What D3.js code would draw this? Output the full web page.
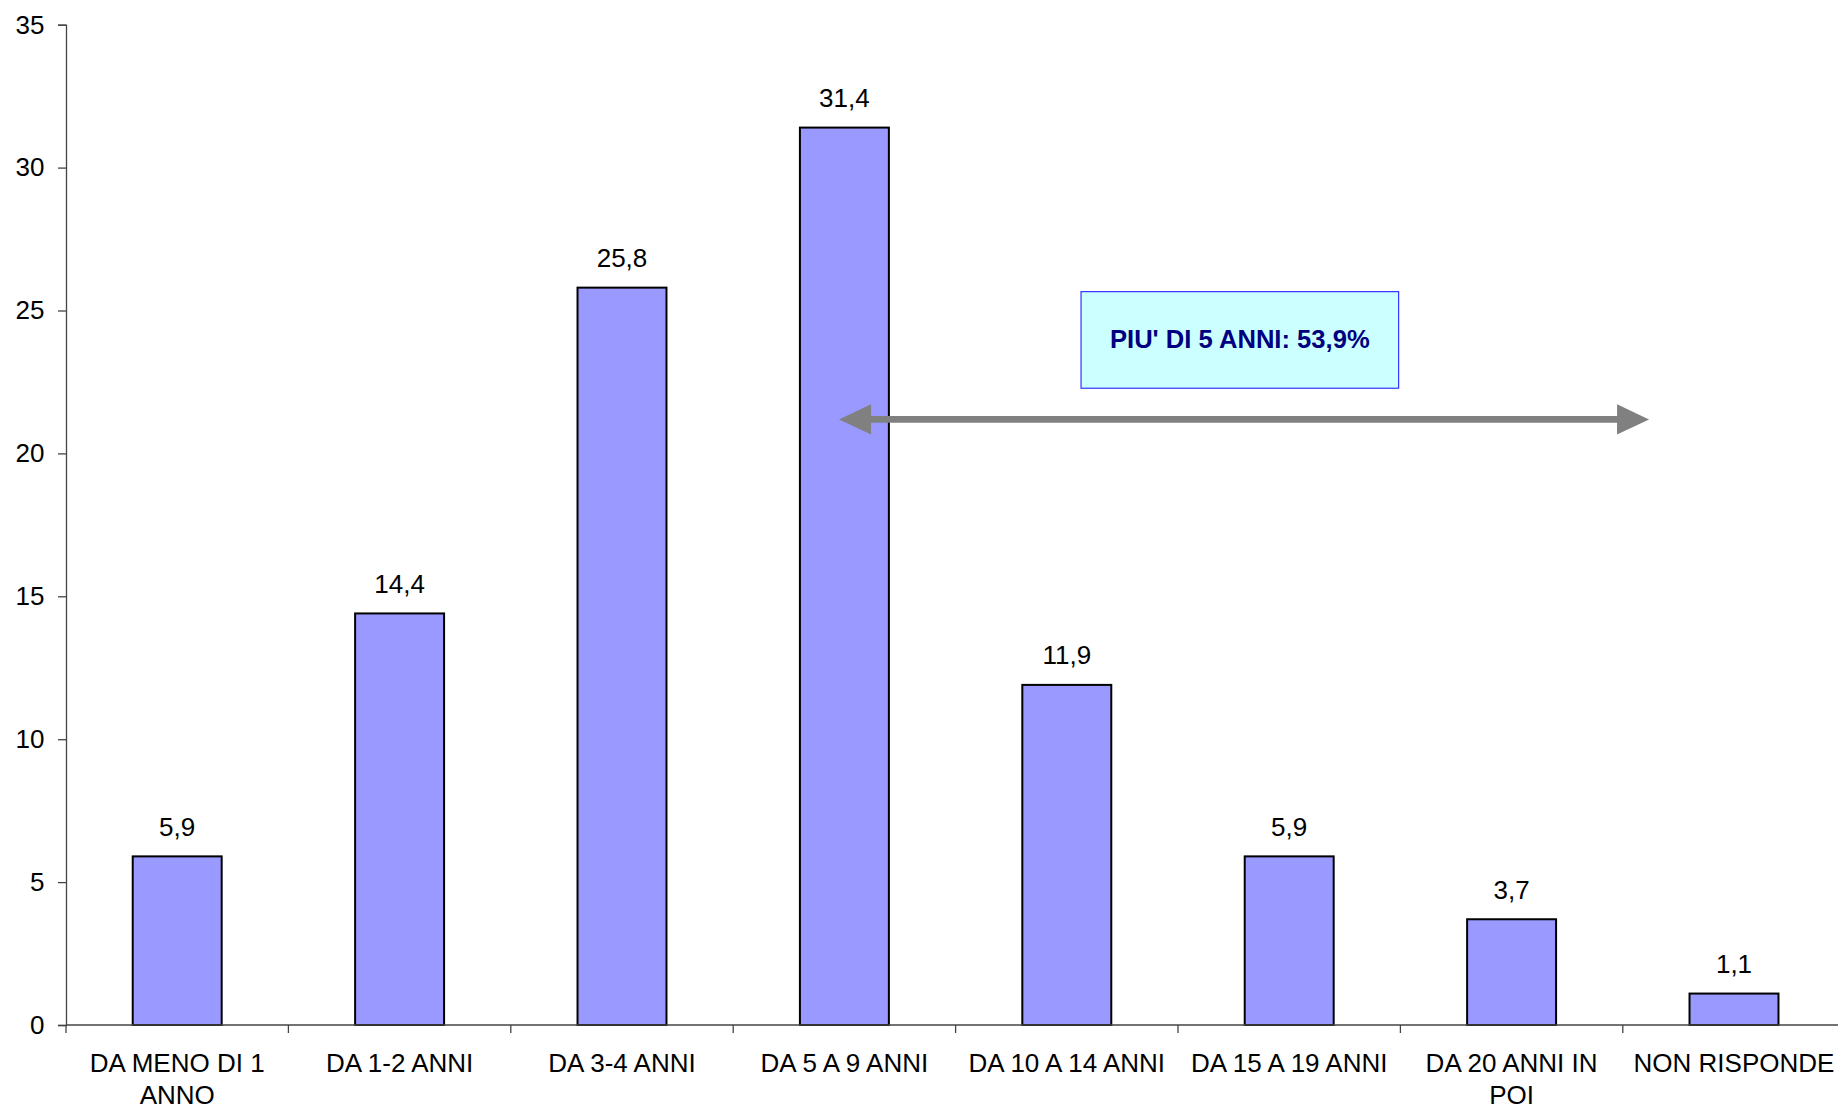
<!DOCTYPE html>
<html>
<head>
<meta charset="utf-8">
<script src="https://cdn.jsdelivr.net/npm/d3@7"></script>
<style>
  html, body { margin: 0; padding: 0; background: #fff; }
  svg { display: block; font-family: "Liberation Sans", Arial, sans-serif; }
</style>
</head>
<body>
<svg id="chart" width="1838" height="1109"></svg>
<script>
const categories = [
  "DA MENO DI 1\nANNO",
  "DA 1-2 ANNI",
  "DA 3-4 ANNI",
  "DA 5 A 9 ANNI",
  "DA 10 A 14 ANNI",
  "DA 15 A 19 ANNI",
  "DA 20 ANNI IN\nPOI",
  "NON RISPONDE"
];
const values = [5.9, 14.4, 25.8, 31.4, 11.9, 5.9, 3.7, 1.1];
const valueLabels = ["5,9", "14,4", "25,8", "31,4", "11,9", "5,9", "3,7", "1,1"];
const yTicks = [0, 5, 10, 15, 20, 25, 30, 35];
const annotationText = "PIU' DI 5 ANNI: 53,9%";

const svg = d3.select("#chart");
const margin = { left: 66, top: 24.7 };
const bandW = 222.4;
const width = bandW * categories.length;
const height = 1025 - margin.top;

const x = d3.scaleBand().domain(categories).range([0, width]).paddingInner(0).paddingOuter(0);
const y = d3.scaleLinear().domain([0, 35]).range([height, 0]);

const g = svg.append("g").attr("transform", `translate(${margin.left},${margin.top})`);

// bars
const barFrac = 0.4;
g.selectAll("rect.bar").data(values).enter().append("rect")
  .attr("class", "bar")
  .attr("x", (d, i) => x(categories[i]) + x.bandwidth() * (1 - barFrac) / 2)
  .attr("y", d => y(d))
  .attr("width", x.bandwidth() * barFrac)
  .attr("height", d => y(0) - y(d))
  .attr("fill", "#9999FF")
  .attr("stroke", "#000")
  .attr("stroke-width", 2);

// value labels
g.selectAll("text.val").data(values).enter().append("text")
  .attr("class", "val")
  .attr("x", (d, i) => x(categories[i]) + x.bandwidth() / 2)
  .attr("y", d => y(d) - 20.5)
  .attr("text-anchor", "middle")
  .attr("font-size", 26)
  .attr("fill", "#000")
  .text((d, i) => valueLabels[i]);

// y axis
const yAxis = d3.axisLeft(y).tickValues(yTicks).tickSize(8).tickPadding(13.5).tickFormat(d3.format("d"));
const yg = g.append("g").call(yAxis);
yg.select(".domain").attr("stroke", "#444").attr("stroke-width", 1.3);
yg.selectAll(".tick line").attr("stroke", "#444").attr("stroke-width", 1.3);
yg.selectAll(".tick text").attr("font-size", 26).attr("fill", "#000")
  .attr("font-family", "Liberation Sans, Arial, sans-serif");

// x axis (ticks at band boundaries)
const xg = g.append("g").attr("transform", `translate(0,${height})`);
xg.append("line").attr("x1", 0).attr("x2", width).attr("y1", 0).attr("y2", 0)
  .attr("stroke", "#444").attr("stroke-width", 1.3);
const boundaries = categories.map(c => x(c)).concat([width]);
xg.selectAll("line.tk").data(boundaries).enter().append("line")
  .attr("class", "tk")
  .attr("x1", d => d).attr("x2", d => d)
  .attr("y1", 0).attr("y2", 8)
  .attr("stroke", "#444").attr("stroke-width", 1.3);
const xl = xg.selectAll("text.cat").data(categories).enter().append("text")
  .attr("class", "cat")
  .attr("x", d => x(d) + x.bandwidth() / 2)
  .attr("y", 47)
  .attr("text-anchor", "middle")
  .attr("font-size", 26)
  .attr("fill", "#000");
xl.each(function(d) {
  const lines = d.split("\n");
  const t = d3.select(this);
  lines.forEach((ln, k) => {
    t.append("tspan").attr("x", x(d) + x.bandwidth() / 2).attr("dy", k === 0 ? 0 : 32).text(ln);
  });
});

// annotation box
const bx0 = x(categories[4]) + x.bandwidth() * 0.564;
const bx1 = x(categories[5]) + x.bandwidth() * 0.992;
const by0 = y(25.66), by1 = y(22.28);
g.append("rect")
  .attr("x", bx0).attr("y", by0)
  .attr("width", bx1 - bx0).attr("height", by1 - by0)
  .attr("fill", "#CCFFFF").attr("stroke", "#3333FF").attr("stroke-width", 1.2);
g.append("text")
  .attr("x", (bx0 + bx1) / 2).attr("y", (by0 + by1) / 2 + 8.5)
  .attr("text-anchor", "middle")
  .attr("font-size", 25.6).attr("font-weight", "bold")
  .attr("fill", "#000080")
  .text(annotationText);

// double-headed arrow
const ay = y(21.19);
const ax0 = x(categories[3]) + x.bandwidth() * 0.476;
const ax1 = x(categories[7]) + x.bandwidth() * 0.118;
const head = 32, halfH = 15.2;
g.append("line")
  .attr("x1", ax0 + head - 2).attr("x2", ax1 - head + 2)
  .attr("y1", ay).attr("y2", ay)
  .attr("stroke", "#808080").attr("stroke-width", 6.7);
g.append("path")
  .attr("d", `M${ax0},${ay} L${ax0 + head},${ay - halfH} L${ax0 + head},${ay + halfH} Z`)
  .attr("fill", "#808080");
g.append("path")
  .attr("d", `M${ax1},${ay} L${ax1 - head},${ay - halfH} L${ax1 - head},${ay + halfH} Z`)
  .attr("fill", "#808080");
</script>
</body>
</html>
